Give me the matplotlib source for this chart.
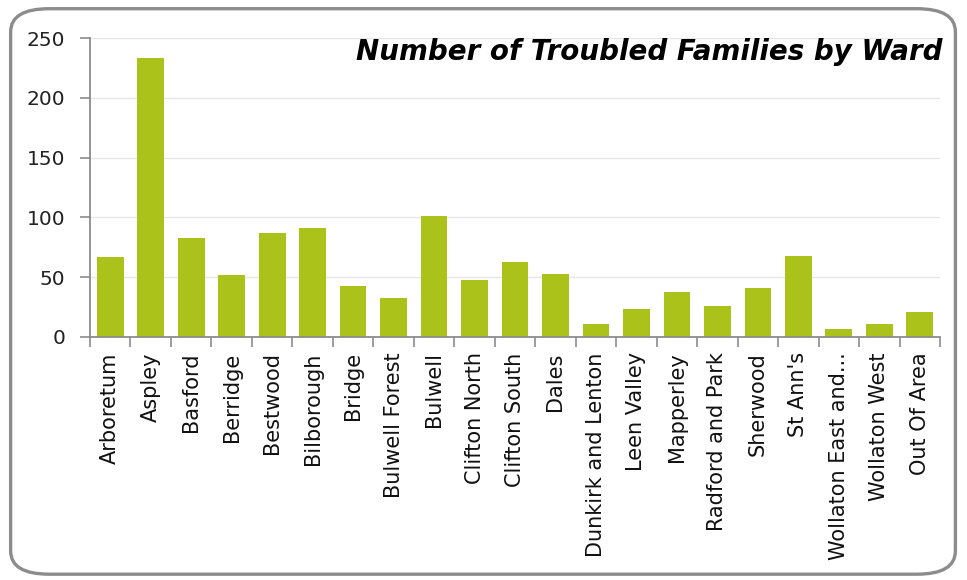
import matplotlib.pyplot as plt
import numpy as np
from matplotlib.patches import FancyBboxPatch

wards = [
    "Arboretum", "Aspley", "Basford", "Berridge", "Bestwood", "Bilborough",
    "Bridge", "Bulwell Forest", "Bulwell", "Clifton North", "Clifton South",
    "Dales", "Dunkirk and Lenton", "Leen Valley", "Mapperley",
    "Radford and Park", "Sherwood", "St Ann's", "Wollaton East and...",
    "Wollaton West", "Out Of Area",
]
families = [67, 233, 83, 52, 87, 91, 43, 33, 101, 48, 63, 53, 11, 23, 38,
            26, 41, 68, 7, 11, 21]
y_ticks = [0, 50, 100, 150, 200, 250]

BAR = "#AAC21A"
AXIS = "#8C8C8C"

fig = plt.figure(figsize=(9.67, 5.8), dpi=100)
fig.patch.set_facecolor("white")

# rounded chart border
fig.patches.append(FancyBboxPatch(
    (0.011, 0.01), 0.977, 0.975,
    boxstyle="round,pad=0,rounding_size=0.04",
    transform=fig.transFigure, facecolor="none",
    edgecolor=AXIS, linewidth=2.4, zorder=0,
))

ax = fig.add_axes([90 / 967, 1 - 337 / 580, 850 / 967, 299 / 580])
ax.set_facecolor("none")
x = np.arange(len(wards))
ax.bar(x, families, width=0.66, color=BAR, zorder=2)

ax.set_xlim(-0.5, len(wards) - 0.5)
ax.set_ylim(0, 250)
ax.set_yticks(y_ticks)
ax.set_yticklabels([str(v) for v in y_ticks], fontsize=14.5, color="#222222")
ax.yaxis.grid(True, color="#E6E6E6", linewidth=1, zorder=0)
ax.set_axisbelow(True)

ax.set_xticks(x)
ax.set_xticklabels(wards, rotation=90, fontsize=15, color="#111111")
ax.set_xticks(np.arange(-0.5, len(wards)), minor=True)
ax.tick_params(axis="x", which="major", length=0, pad=11)
ax.tick_params(axis="x", which="minor", length=7, width=1.2, color=AXIS,
               direction="out")
ax.tick_params(axis="y", length=7, width=1.2, color=AXIS, pad=11)

for side in ("top", "right"):
    ax.spines[side].set_visible(False)
for side in ("left", "bottom"):
    ax.spines[side].set_color(AXIS)
    ax.spines[side].set_linewidth(1.3)

fig.text(943 / 967, 1 - 52 / 580, "Number of Troubled Families by Ward",
         ha="right", va="center", fontsize=20, fontweight="bold",
         fontstyle="italic", family="DejaVu Sans", color="#000000")

fig.savefig("out.png", dpi=100, facecolor="white")
